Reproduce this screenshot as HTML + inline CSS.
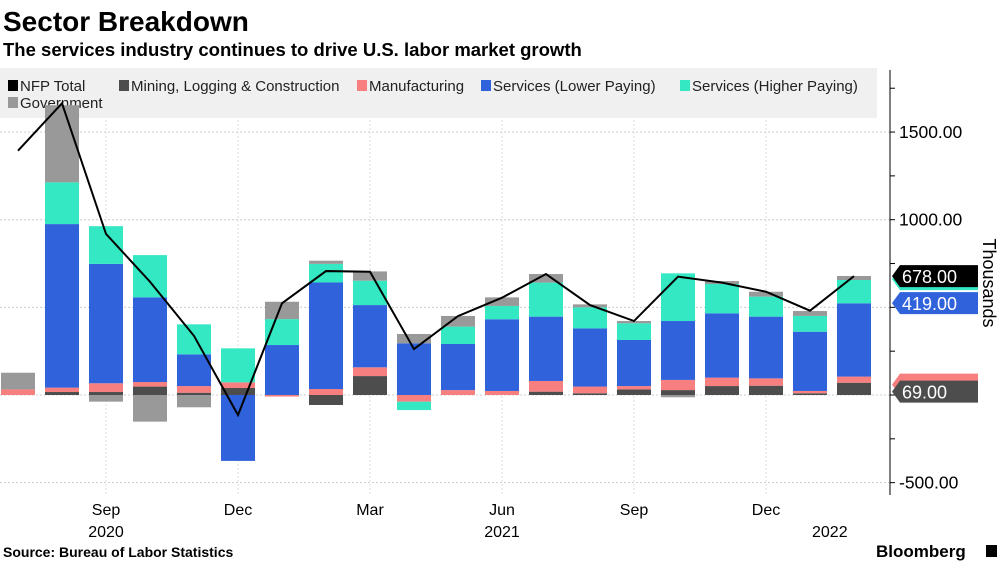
<!DOCTYPE html>
<html><head><meta charset="utf-8"><style>
body{margin:0;background:#fff;width:1003px;height:564px;overflow:hidden;font-family:"Liberation Sans",sans-serif}
</style></head><body>
<svg width="1003" height="564" xmlns="http://www.w3.org/2000/svg" font-family="Liberation Sans, DejaVu Sans, sans-serif">
<text x="3" y="31" font-size="28" font-weight="bold" fill="#000">Sector Breakdown</text>
<text x="3" y="56" font-size="18.5" font-weight="bold" fill="#000">The services industry continues to drive U.S. labor market growth</text>
<g id="grid"></g>
<rect x="0" y="68" width="877" height="50" fill="#f0f0f0"/>
<g id="legend" font-size="14" fill="#222"></g>
<g id="bars"></g>
<g id="line"></g>
<g id="axis"></g>
<text font-size="18" fill="#000" transform="translate(983,283) rotate(90)" text-anchor="middle">Thousands</text>
<text x="3" y="557" font-size="14" font-weight="bold" fill="#000">Source: Bureau of Labor Statistics</text>
<text x="876" y="557" font-size="17" font-weight="bold" fill="#000">Bloomberg</text>
<rect x="986" y="545" width="11" height="12" fill="#000"/>
</svg>
<script>
const months=['Jul','Aug','Sep','Oct','Nov','Dec','Jan','Feb','Mar','Apr','May','Jun','Jul','Aug','Sep','Oct','Nov','Dec','Jan','Feb'];
const mining=[0,17,17,48,13,40,0,-57,108,0,0,0,19,10,32,28,51,53,10,70];
const manufacturing=[32,25,50,26,38,32,-9,34,50,-38,28,23,61,38,19,58,48,42,13,35];
const servicesLower=[0,933,681,483,181,-376,285,608,355,295,263,409,367,332,263,336,367,352,338,418];
const servicesHigher=[0,238,215,241,171,194,148,106,139,-48,99,76,194,120,95,272,167,114,90,133];
const government=[95,440,-38,-152,-70,0,99,18,53,53,61,49,49,17,13,-13,17,28,28,23];
const nfpTotal=[1394,1664,919,646,337,-114,523,707,703,262,450,555,690,513,422,675,641,589,481,678];
const yTicks=[1500,1000,500,0,-500];
const xLabels=[{i:2,t:'Sep'},{i:5,t:'Dec'},{i:8,t:'Mar'},{i:11,t:'Jun'},{i:14,t:'Sep'},{i:17,t:'Dec'}];
const yearLabels=[{i:2,t:'2020'},{i:11,t:'2021'},{i:18.45,t:'2022'}];
const NS='http://www.w3.org/2000/svg';
const y=v=>395-v*0.1753;
const x=i=>18+i*44;
function mk(tag,attrs,parent){const e=document.createElementNS(NS,tag);for(const k in attrs)e.setAttribute(k,attrs[k]);document.getElementById(parent).appendChild(e);return e;}
yTicks.forEach(t=>{const l=mk('line',{x1:0,x2:890,y1:y(t),y2:y(t),stroke:'#ccc','stroke-dasharray':'2,2'},'grid');

});
xLabels.forEach(d=>{const l=mk('line',{x1:x(d.i),x2:x(d.i),y1:68,y2:495,stroke:'#ddd','stroke-dasharray':'2,2'},'grid');

});
const series=[{d:mining,c:'#4d4d4d',n:'mining'},{d:manufacturing,c:'#f77f7f',n:'manufacturing'},{d:servicesLower,c:'#3062dc',n:'services-lower'},{d:servicesHigher,c:'#33e8c2',n:'services-higher'},{d:government,c:'#999999',n:'government'}];
months.forEach((m,i)=>{let pos=0,neg=0;series.forEach(s=>{const v=s.d[i];if(!v)return;let a,b;if(v>0){a=pos;b=pos+v;pos=b;}else{a=neg;b=neg+v;neg=b;}
const r=mk('rect',{x:x(i)-17,width:34,y:Math.min(y(a),y(b)),height:Math.abs(y(a)-y(b)),fill:s.c},'bars');

});});
const p=mk('polyline',{points:nfpTotal.map((v,i)=>x(i)+','+y(v)).join(' '),fill:'none',stroke:'#000','stroke-width':2},'line');


const ax=mk('line',{x1:890,x2:890,y1:70,y2:495,stroke:'#000'},'axis');


for(let v=-500;v<=1750;v+=250){const t=mk('line',{x1:890,x2:895,y1:y(v),y2:y(v),stroke:'#000'},'axis');

}
yTicks.forEach(t=>{const e=mk('text',{x:899,y:y(t)+6,'font-size':17.5,fill:'#000'},'axis');e.textContent=t.toFixed(2);

});
xLabels.forEach(d=>{const e=mk('text',{x:x(d.i),y:515,'font-size':16,'text-anchor':'middle',fill:'#000'},'axis');e.textContent=d.t;

});
yearLabels.forEach(d=>{const e=mk('text',{x:x(d.i),y:537,'font-size':16,'text-anchor':'middle',fill:'#000'},'axis');e.textContent=d.t;

});
const last=months.length-1;
const tags=[{c:'#33e8c2',t:'',yy:y(nfpTotal[last])+3},{c:'#000',t:nfpTotal[last].toFixed(2),yy:y(nfpTotal[last])},{c:'#3062dc',t:(servicesLower[last]+1).toFixed(2),yy:y(nfpTotal[last])+27},{c:'#f77f7f',t:'',yy:y(manufacturing[last]+mining[last])+8},{c:'#4d4d4d',t:(mining[last]-1).toFixed(2),yy:y(manufacturing[last]+mining[last])+15}];
tags.forEach(g=>{const yy=g.yy;const pg=mk('polygon',{points:`892,${yy} 900,${yy-11} 978,${yy-11} 978,${yy+11} 900,${yy+11}`,fill:g.c},'axis');


if(g.t){const e=mk('text',{x:902,y:yy+7,'font-size':18,fill:'#fff'},'axis');e.textContent=g.t;

}});
const leg=[{t:'NFP Total',c:'#000',x:8,y:91},{t:'Mining, Logging & Construction',c:'#4d4d4d',x:119,y:91},{t:'Manufacturing',c:'#f77f7f',x:357,y:91},{t:'Services (Lower Paying)',c:'#3062dc',x:481,y:91},{t:'Services (Higher Paying)',c:'#33e8c2',x:680,y:91},{t:'Government',c:'#999',x:8,y:108}];
leg.forEach(l=>{const r=mk('rect',{x:l.x,y:l.y-11,width:10,height:11,fill:l.c},'legend');


const e=mk('text',{x:l.x+12,y:l.y,'font-size':15,fill:'#222'},'legend');e.textContent=l.t;

});
</script>
</body></html>
